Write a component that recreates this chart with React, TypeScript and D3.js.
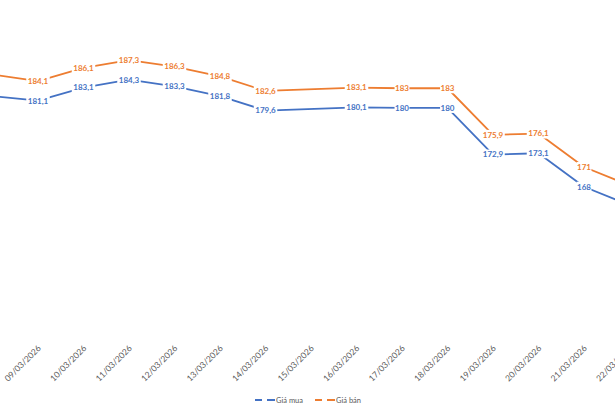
import { useEffect, useRef } from 'react';
import * as d3 from 'd3';

const dates = [
  '08/03/2026', '09/03/2026', '10/03/2026', '11/03/2026', '12/03/2026',
  '13/03/2026', '14/03/2026', '15/03/2026', '16/03/2026', '17/03/2026',
  '18/03/2026', '19/03/2026', '20/03/2026', '21/03/2026', '22/03/2026',
];
// null = no data that day (line is joined across it)
const giaMua: (number | null)[] = [181.8, 181.1, 183.1, 184.3, 183.3, 181.8, 179.6, null, 180.1, 180, 180, 172.9, 173.1, 168, 165.2];
const giaBan: (number | null)[] = [185.1, 184.1, 186.1, 187.3, 186.3, 184.8, 182.6, null, 183.1, 183, 183, 175.9, 176.1, 171, 168.2];

const seriesNames = ['Giá mua', 'Giá bán'];
const colors = ['#4472C4', '#ED7D31'];

const fmt = (v: number) => String(v).replace('.', ',');

export default function App() {
  const ref = useRef<SVGSVGElement>(null);

  useEffect(() => {
    document.body.style.margin = '0';
    const svg = d3.select(ref.current);
    svg.selectAll('*').remove();

    const width = 615;
    const height = 410;
    svg.attr('width', width).attr('height', height);

    const x = d3.scalePoint<string>().domain(dates).range([-7.5, 629.5]);
    const y = d3.scaleLinear().domain([145, 190]).range([337.7, 42.3]);

    const font = 'Lato, "Open Sans", sans-serif';

    // category axis, no line or ticks (first category lies outside the frame)
    const ax = svg.append('g')
      .attr('transform', `translate(0,${y(145)})`)
      .call(d3.axisBottom(x).tickSize(0).tickPadding(0).tickValues(dates.slice(1)));
    ax.select('.domain').remove();
    ax.selectAll('text')
      .attr('fill', '#595959')
      .style('font-family', font)
      .style('font-size', '8.5px')
      .attr('text-anchor', 'end')
      .attr('dy', 0)
      .attr('transform', 'translate(3,11) rotate(-45)');

    const all = [giaMua, giaBan];
    all.forEach((vals, si) => {
      const pts = vals
        .map((v, i) => ({ d: dates[i], v }))
        .filter((p) => p.v !== null) as { d: string; v: number }[];

      svg.append('path')
        .datum(pts)
        .attr('fill', 'none')
        .attr('stroke', colors[si])
        .attr('stroke-width', 1.8)
        .attr('stroke-linejoin', 'round')
        .attr('d', d3.line<{ d: string; v: number }>()
          .x((p) => x(p.d)!)
          .y((p) => y(p.v)));

      const inFrame = pts.filter((p) => x(p.d)! > 0 && x(p.d)! < width);
      const lbl = svg.append('g').selectAll('g').data(inFrame).join('g')
        .attr('transform', (p) => `translate(${x(p.d)},${y(p.v)})`);
      lbl.append('rect')
        .attr('x', (p) => -(fmt(p.v).length * 4.3 + 2) / 2)
        .attr('y', -5)
        .attr('width', (p) => fmt(p.v).length * 4.3 + 2)
        .attr('height', 10)
        .attr('fill', '#fff');
      lbl.append('text')
        .attr('text-anchor', 'middle')
        .attr('dy', '0.35em')
        .attr('fill', colors[si])
        .style('font-family', font)
        .style('font-size', '8px')
        .style('font-weight', 'bold')
        .text((p) => fmt(p.v));
    });

    // legend
    const legX = [255, 315];
    seriesNames.forEach((name, i) => {
      const g = svg.append('g').attr('transform', `translate(${legX[i]},400)`);
      g.append('line').attr('x1', 0).attr('x2', 7).attr('stroke', colors[i]).attr('stroke-width', 2);
      g.append('line').attr('x1', 12).attr('x2', 20).attr('stroke', colors[i]).attr('stroke-width', 2);
      g.append('text')
        .attr('x', 21)
        .attr('dy', '0.35em')
        .attr('fill', '#595959')
        .style('font-family', font)
        .style('font-size', '7.5px')
        .text(name);
    });
  }, []);

  return <svg ref={ref} style={{ display: 'block' }}></svg>;
}
